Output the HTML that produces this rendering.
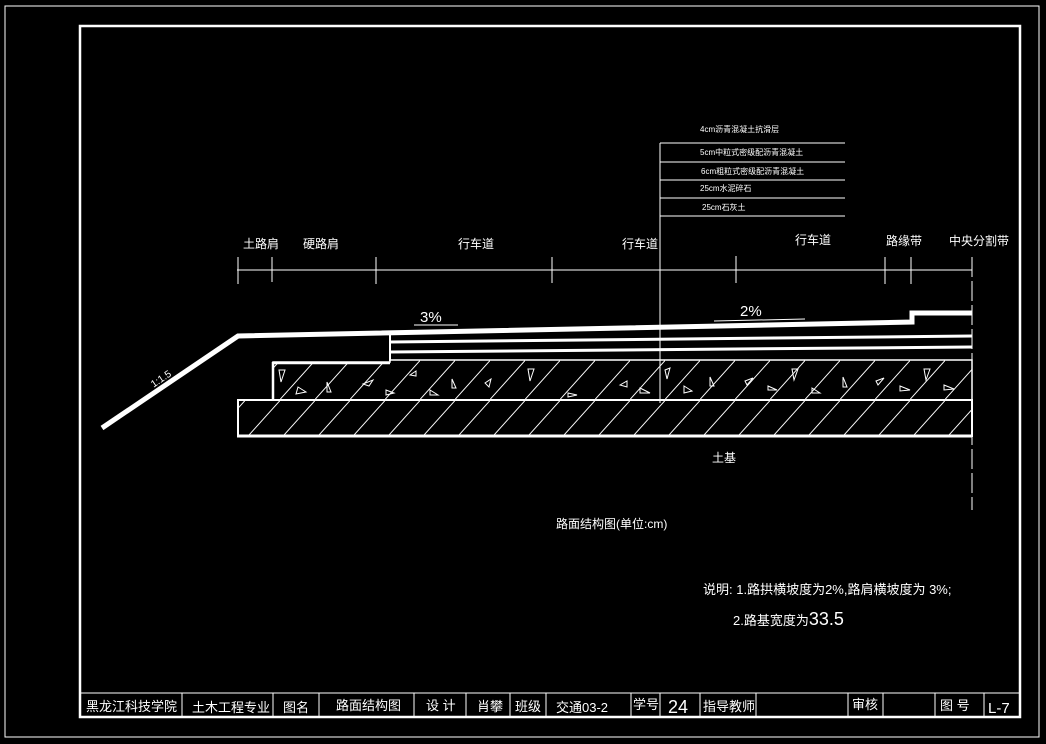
<!DOCTYPE html>
<html><head><meta charset="utf-8"><style>
html,body{margin:0;padding:0;background:#000;}
svg{display:block;}
text{font-family:"Liberation Sans","Noto Sans CJK SC",sans-serif;fill:#fff;}
</style></head><body>
<svg width="1046" height="744" viewBox="0 0 1046 744" xmlns="http://www.w3.org/2000/svg">
<defs>
<pattern id="h" patternUnits="userSpaceOnUse" width="35" height="40" x="0" y="0">
<line x1="-5" y1="45" x2="40" y2="-5" stroke="#fff" stroke-width="1"/>
</pattern>
</defs>
<!-- frames -->
<rect x="5" y="6" width="1034" height="731" fill="none" stroke="#fff" stroke-width="1"/>
<rect x="80" y="26" width="940" height="691" fill="none" stroke="#fff" stroke-width="2.5"/>
<!-- title block -->
<line x1="80" y1="693" x2="1020" y2="693" stroke="#fff" stroke-width="1"/>
<g stroke="#fff" stroke-width="1">
<line x1="182" y1="693" x2="182" y2="717"/><line x1="273" y1="693" x2="273" y2="717"/>
<line x1="319" y1="693" x2="319" y2="717"/><line x1="414" y1="693" x2="414" y2="717"/>
<line x1="466" y1="693" x2="466" y2="717"/><line x1="510" y1="693" x2="510" y2="717"/>
<line x1="546" y1="693" x2="546" y2="717"/><line x1="631" y1="693" x2="631" y2="717"/>
<line x1="660" y1="693" x2="660" y2="717"/><line x1="700" y1="693" x2="700" y2="717"/>
<line x1="756" y1="693" x2="756" y2="717"/><line x1="848" y1="693" x2="848" y2="717"/>
<line x1="883" y1="693" x2="883" y2="717"/><line x1="935" y1="693" x2="935" y2="717"/>
<line x1="984" y1="693" x2="984" y2="717"/>
</g>
<g font-size="13">
<text x="86" y="711">黑龙江科技学院</text>
<text x="192" y="712">土木工程专业</text>
<text x="283" y="712">图名</text>
<text x="336" y="710">路面结构图</text>
<text x="426" y="710">设  计</text>
<text x="477" y="711">肖攀</text>
<text x="515" y="711">班级</text>
<text x="556" y="712">交通03-2</text>
<text x="633" y="709">学号</text>
<text x="668" y="713" font-size="18">24</text>
<text x="703" y="711">指导教师</text>
<text x="852" y="709">审核</text>
<text x="940" y="710">图  号</text>
<text x="988" y="713" font-size="15">L-7</text>
</g>
<!-- layer table -->
<line x1="660" y1="143" x2="660" y2="403" stroke="#fff" stroke-width="1"/>
<g stroke="#fff" stroke-width="1">
<line x1="660" y1="143" x2="845" y2="143"/><line x1="660" y1="162" x2="845" y2="162"/>
<line x1="660" y1="180" x2="845" y2="180"/><line x1="660" y1="198" x2="845" y2="198"/>
<line x1="660" y1="216" x2="845" y2="216"/>
</g>
<g font-size="8">
<text x="700" y="132">4cm沥青混凝土抗滑层</text>
<text x="700" y="155">5cm中粒式密级配沥青混凝土</text>
<text x="701" y="174">6cm粗粒式密级配沥青混凝土</text>
<text x="700" y="191">25cm水泥碎石</text>
<text x="702" y="210">25cm石灰土</text>
</g>
<!-- dimension line -->
<line x1="237" y1="270" x2="972" y2="270" stroke="#fff" stroke-width="1"/>
<g stroke="#fff" stroke-width="1">
<line x1="238" y1="257" x2="238" y2="284"/><line x1="272" y1="257" x2="272" y2="282"/>
<line x1="376" y1="257" x2="376" y2="284"/><line x1="552" y1="257" x2="552" y2="283"/>
<line x1="736" y1="256" x2="736" y2="283"/><line x1="885" y1="257" x2="885" y2="284"/>
<line x1="911" y1="257" x2="911" y2="284"/>
<line x1="972" y1="257" x2="972" y2="510" stroke-dasharray="20,4"/>
</g>
<g font-size="12">
<text x="243" y="248">土路肩</text>
<text x="303" y="248">硬路肩</text>
<text x="458" y="248">行车道</text>
<text x="622" y="248">行车道</text>
<text x="795" y="244">行车道</text>
<text x="886" y="245">路缘带</text>
<text x="949" y="245">中央分割带</text>
</g>
<!-- slopes text -->
<text x="420" y="322" font-size="15">3%</text>
<line x1="414" y1="325" x2="458" y2="325" stroke="#fff" stroke-width="1"/>
<text x="740" y="316" font-size="15">2%</text>
<line x1="714" y1="321" x2="805" y2="319" stroke="#fff" stroke-width="1"/>
<!-- pavement top -->
<polyline points="102,428 238,336 912,322 912,313 972,313" fill="none" stroke="#fff" stroke-width="5"/>
<polyline points="390,361 390,333" fill="none" stroke="#fff" stroke-width="2"/>
<line x1="390" y1="342" x2="972" y2="336" stroke="#fff" stroke-width="3"/>
<line x1="390" y1="352" x2="972" y2="347" stroke="#fff" stroke-width="3"/>
<text x="150" y="384" font-size="10" transform="rotate(-34 158 380)">1:1.5</text>
<!-- base layers -->
<path d="M273,400 L273,362 L390,362 L390,360 L972,360 L972,400 Z" fill="url(#h)" stroke="#fff" stroke-width="1.5"/>
<path d="M273,363 L390,363" stroke="#fff" stroke-width="2.5"/>
<line x1="273" y1="362" x2="273" y2="400" stroke="#fff" stroke-width="2.5"/>
<rect x="238" y="400" width="734" height="36" fill="url(#h)" stroke="#fff" stroke-width="2"/>
<line x1="237" y1="436" x2="972" y2="436" stroke="#fff" stroke-width="3"/>
<g fill="none" stroke="#fff" stroke-width="1">
<path d="M279,370 l6,0 l-4,12 z"/><path d="M298,387 l8,5 l-10,2 z"/><path d="M327,392 l0,-10 l4,10 z"/>
<path d="M363,384 l10,-4 l-4,6 z"/><path d="M386,390 l8,3 l-8,2 z"/><path d="M410,375 l6,-4 l0,5 z"/>
<path d="M430,390 l8,5 l-8,0 z"/><path d="M452,388 l0,-9 l4,9 z"/><path d="M485,383 l6,-4 l-2,8 z"/>
<path d="M528,369 l6,0 l-4,12 z"/><path d="M568,393 l9,2 l-9,2 z"/><path d="M620,385 l7,-4 l0,6 z"/>
<path d="M640,388 l10,5 l-10,0 z"/><path d="M665,370 l5,-2 l-3,11 z"/><path d="M684,386 l8,5 l-8,2 z"/>
<path d="M710,386 l0,-9 l4,9 z"/><path d="M745,381 l8,-3 l-6,7 z"/><path d="M768,386 l9,4 l-9,0 z"/>
<path d="M792,369 l6,0 l-4,11 z"/><path d="M812,388 l8,5 l-8,0 z"/><path d="M843,387 l0,-10 l4,10 z"/>
<path d="M876,381 l8,-3 l-6,7 z"/><path d="M900,386 l10,4 l-10,1 z"/><path d="M924,369 l6,0 l-4,11 z"/>
<path d="M944,385 l10,4 l-10,1 z"/>
</g>
<text x="712" y="462" font-size="12">土基</text>
<text x="556" y="528" font-size="12">路面结构图(单位:cm)</text>
<text x="703" y="594" font-size="13">说明: 1.路拱横坡度为2%,路肩横坡度为   3%;</text>
<text x="733" y="625" font-size="13">2.路基宽度为<tspan font-size="18">33.5</tspan></text>
</svg>
</body></html>
